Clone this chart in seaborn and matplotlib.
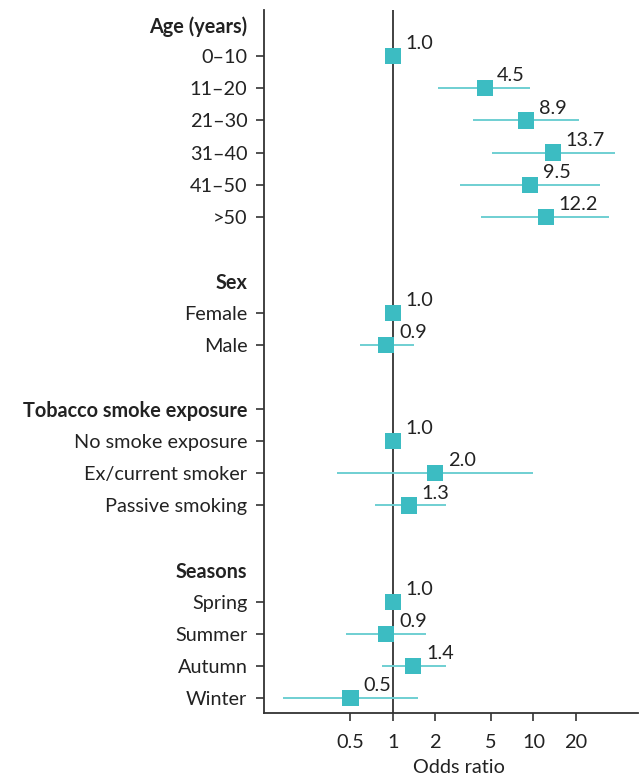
import matplotlib
matplotlib.use("Agg")
import matplotlib.pyplot as plt
import seaborn as sns
import pandas as pd
import numpy as np

# rows from top to bottom; headers and blank spacer rows have no estimate
row_labels = ["Age (years)", "0–10", "11–20", "21–30", "31–40", "41–50", ">50", "",
              "Sex", "Female", "Male", "",
              "Tobacco smoke exposure", "No smoke exposure", "Ex/current smoker", "Passive smoking", "",
              "Seasons", "Spring", "Summer", "Autumn", "Winter"]
headers = ["Age (years)", "Sex", "Tobacco smoke exposure", "Seasons"]

odds = [None, 1.0, 4.5, 8.9, 13.7, 9.5, 12.2, None,
        None, 1.0, 0.9, None,
        None, 1.0, 2.0, 1.3, None,
        None, 1.0, 0.9, 1.4, 0.5]
ci_low = [None, None, 2.1, 3.7, 5.1, 3.0, 4.25, None,
          None, None, 0.585, None,
          None, None, 0.40, 0.75, None,
          None, None, 0.466, 0.835, 0.165]
ci_high = [None, None, 9.5, 21.2, 37.7, 29.5, 34.4, None,
           None, None, 1.42, None,
           None, None, 10.0, 2.39, None,
           None, None, 1.71, 2.39, 1.52]

xticks = [0.5, 1, 2, 5, 10, 20]
xtick_labels = ["0.5", "1", "2", "5", "10", "20"]

df = pd.DataFrame({"label": row_labels, "odds": odds, "lo": ci_low, "hi": ci_high})
df["row"] = np.arange(len(df))
pts = df.dropna(subset=["odds"])
cis = df.dropna(subset=["lo"])

sns.set_style("ticks")
plt.rcParams["font.family"] = ["Lato", "DejaVu Sans"]
fs = 14.3

fig = plt.figure(figsize=(6.44, 7.78), dpi=100)
ax = fig.add_axes([0.41, 0.0835, 0.581, 0.9035])

ax.axvline(1, color="#333333", lw=1.3, zorder=1)
ax.hlines(cis["row"], cis["lo"], cis["hi"], color="#6FCFD2", lw=1.4, zorder=2)
sns.scatterplot(data=pts, x="odds", y="row", marker="s", s=135, color="#3CBCC2",
                edgecolor="none", ax=ax, zorder=3, legend=False)

for _, r in pts.iterrows():
    ax.annotate(f"{r['odds']:.1f}", (r["odds"], r["row"]), xytext=(9, 5),
                textcoords="offset points", ha="left", va="baseline",
                fontsize=fs, color="#222222")

ax.set_xscale("log")
ax.set_xlim(0.1215, 55.5)
ax.set_ylim(len(df) - 1 + 0.47, -0.44)
ax.set_xticks(xticks)
ax.set_xticklabels(xtick_labels)
ax.minorticks_off()

tick_rows = [i for i, lab in enumerate(row_labels) if lab != ""]
ax.set_yticks(tick_rows)
ax.set_yticklabels([row_labels[i] for i in tick_rows])
for t, i in zip(ax.yaxis.get_major_ticks(), tick_rows):
    if row_labels[i] in headers and row_labels[i] != "Tobacco smoke exposure":
        t.tick1line.set_visible(False)
for lab in ax.get_yticklabels():
    if lab.get_text() in headers:
        lab.set_fontweight("bold")

ax.tick_params(axis="both", labelsize=fs, length=6, width=1.2, color="#333333",
               labelcolor="#222222", pad=6)
ax.tick_params(axis="x", pad=9)
for s in ["left", "bottom"]:
    ax.spines[s].set_color("#333333")
    ax.spines[s].set_linewidth(1.3)
sns.despine(ax=ax)

ax.set_xlabel("Odds ratio", fontsize=fs, color="#222222")
ax.xaxis.set_label_coords(0.52, -0.065)
ax.set_ylabel("")

fig.savefig("out.png", dpi=100)
